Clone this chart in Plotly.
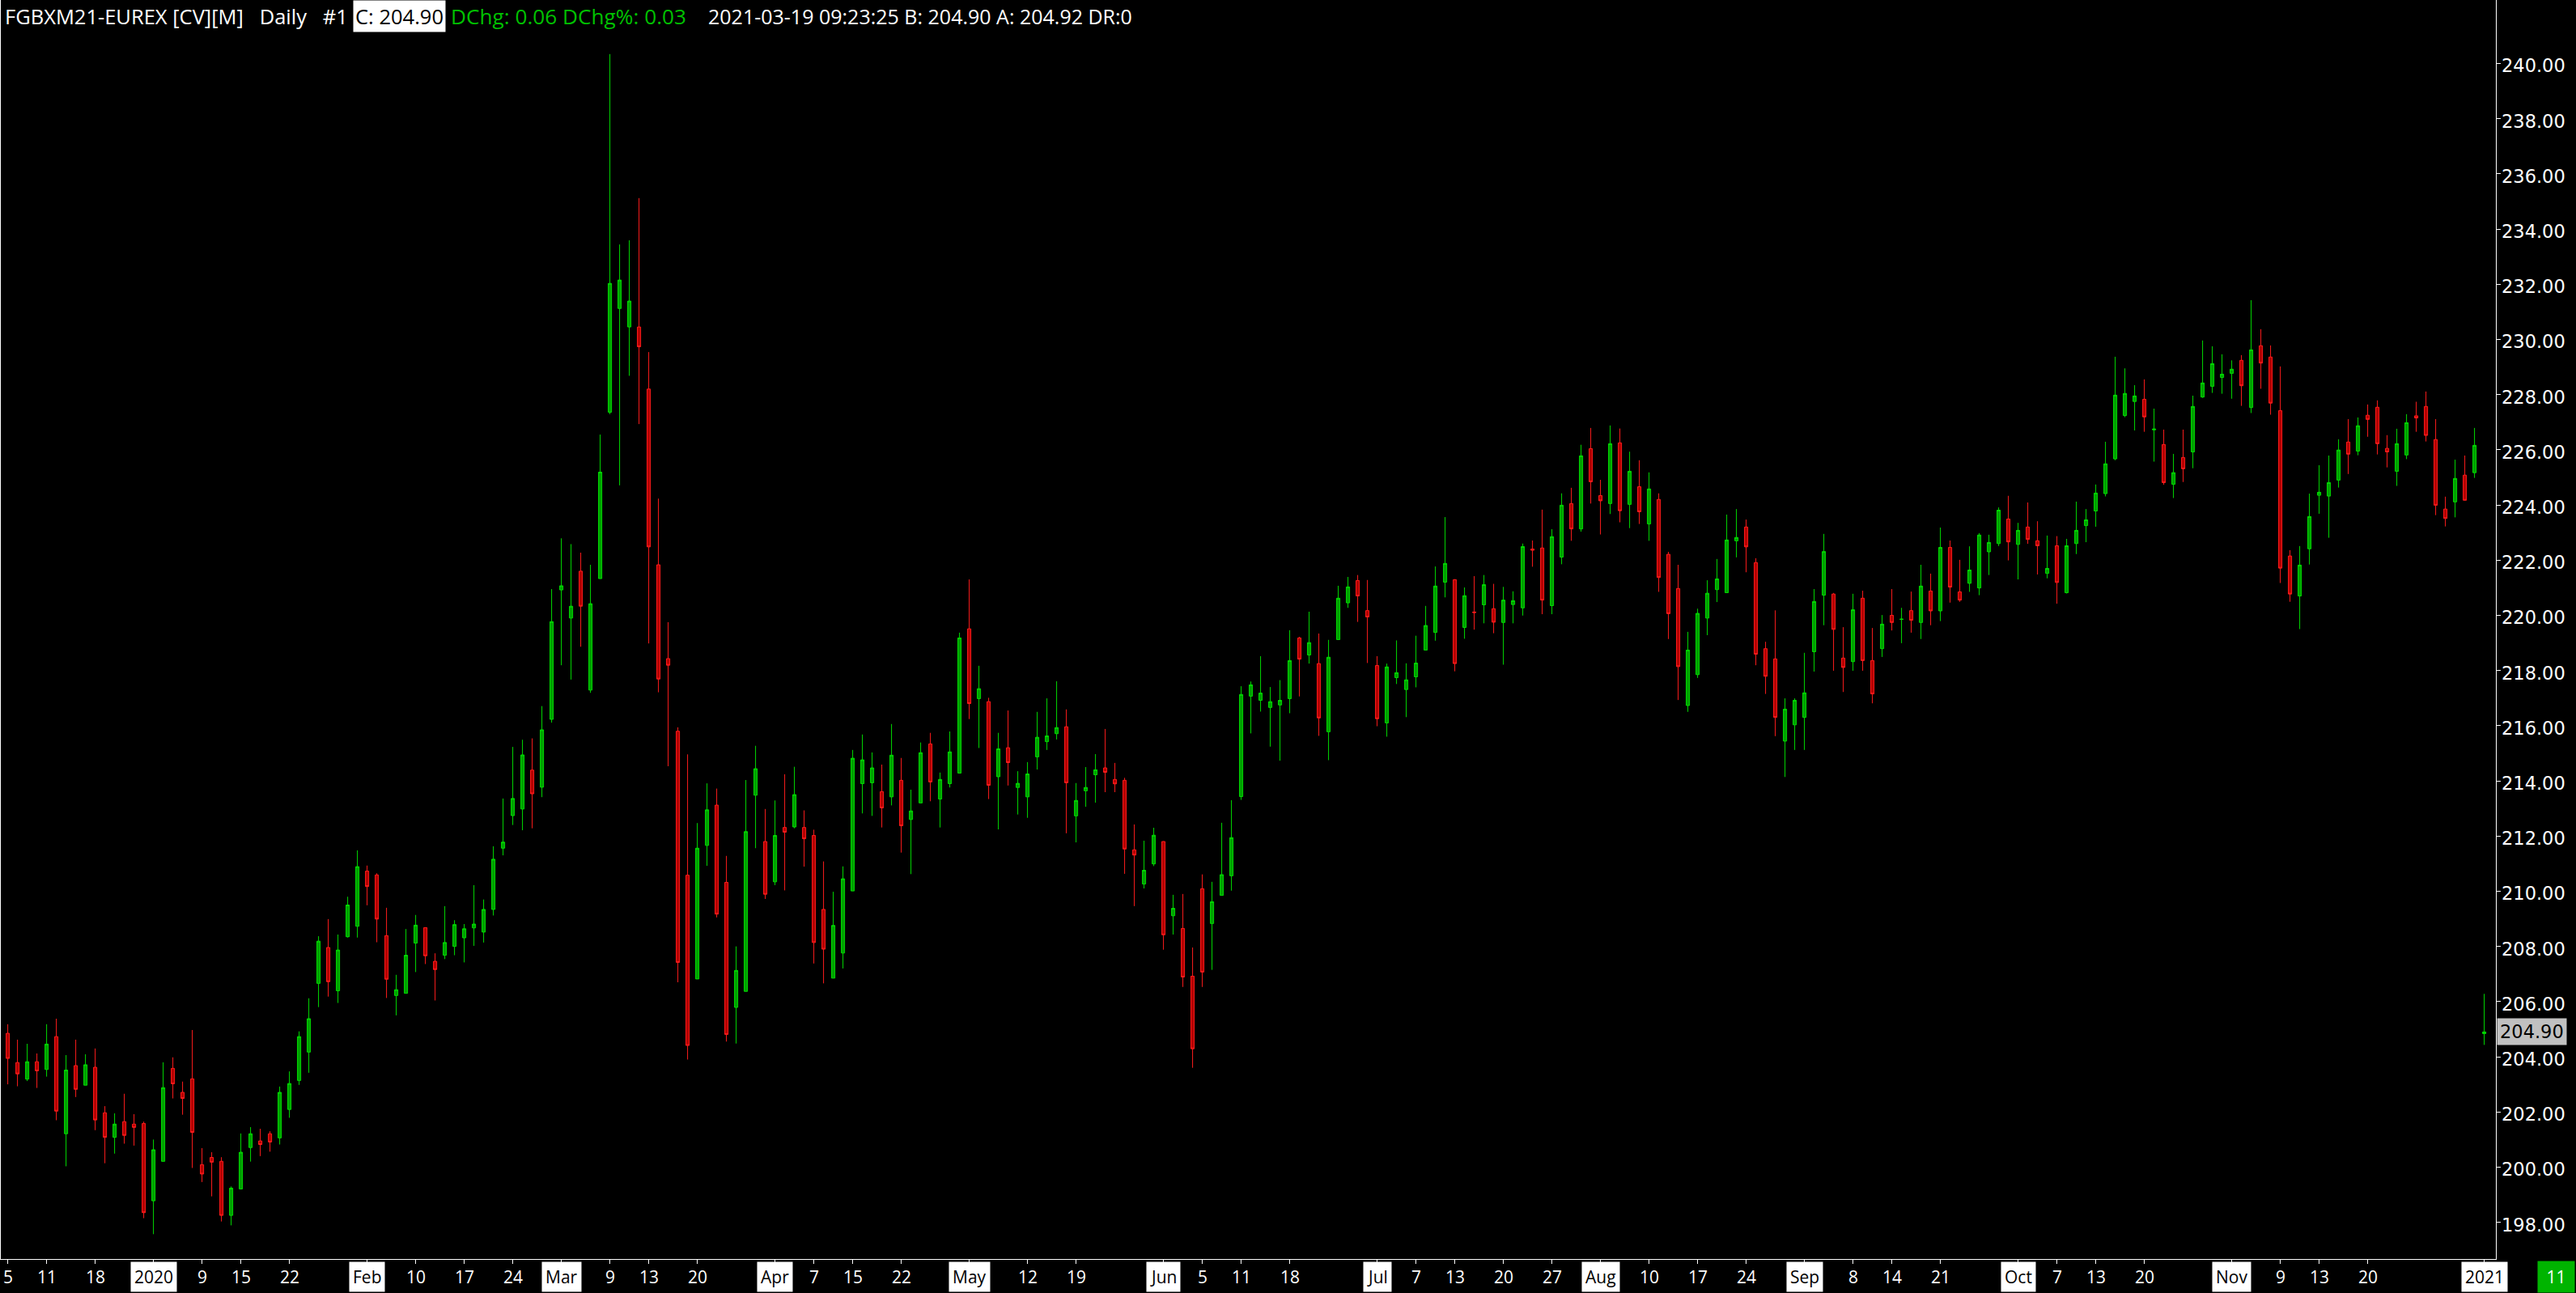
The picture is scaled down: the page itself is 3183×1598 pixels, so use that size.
import plotly.graph_objects as go

# ---- data (bar index order, Dec 2019 -> 2021) ----
open_ = [204.85,203.79,203.19,203.82,203.54,204.73,201.21,203.68,202.97,203.62,
         201.97,201.08,201.65,201.56,201.58,198.78,200.21,203.58,202.71,203.20,
         200.09,200.35,200.21,198.25,199.21,200.71,200.95,201.21,201.06,202.09,
         203.14,204.17,206.66,207.96,206.39,208.35,208.73,210.73,210.59,208.39,
         206.22,206.30,208.12,208.68,207.46,207.68,208.00,208.31,208.67,208.52,
         209.34,211.56,212.74,212.98,214.39,213.77,216.23,220.92,219.90,221.60,
         217.29,221.33,227.36,231.12,230.45,230.45,228.20,221.83,218.43,215.80,
         210.58,206.82,211.66,213.12,210.32,205.79,206.37,213.48,211.80,210.34,
         212.31,212.33,212.31,212.02,209.34,206.85,207.76,210.01,213.90,213.93,
         213.61,213.42,214.02,212.60,213.20,215.34,213.34,213.90,214.28,219.51,
         216.98,216.87,214.15,215.20,213.76,213.42,214.87,215.42,215.71,215.96,
         212.73,213.64,214.22,214.47,214.05,214.02,211.50,210.26,210.99,211.80,
         209.11,208.65,206.92,210.09,208.83,209.85,210.56,213.43,217.07,216.92,
         216.66,216.75,216.98,219.18,218.56,218.25,215.78,219.12,220.45,221.26,
         220.17,218.18,216.10,217.74,217.31,217.77,218.74,219.38,221.20,221.29,
         219.56,220.12,220.38,220.24,219.74,220.39,220.27,222.40,222.44,220.35,
         222.11,224.05,223.13,226.04,224.34,224.05,226.25,224.02,224.66,223.31,
         224.20,222.21,220.97,216.73,217.85,219.90,220.93,220.82,222.70,223.20,
         221.91,218.79,218.42,215.44,216.03,216.30,218.68,220.73,220.77,218.45,
         218.32,220.62,218.36,218.79,220.00,219.85,220.17,219.74,220.88,220.16,
         222.46,220.85,221.16,220.99,222.30,222.60,223.49,222.57,223.20,222.70,
         221.52,222.52,220.82,222.60,223.25,223.78,224.41,225.67,227.24,227.75,
         227.83,226.72,226.19,224.75,225.72,225.92,227.91,228.30,228.62,228.77,
         229.24,227.53,229.77,229.36,227.42,222.15,220.70,222.41,224.35,224.32,
         224.90,226.28,225.95,227.25,227.54,226.05,225.22,225.81,227.23,227.57,
         226.37,223.85,224.11,225.08,225.17,204.84]
high = [205.18,204.62,204.47,204.12,205.18,205.38,204.06,204.62,204.09,204.30,
        202.21,201.95,202.66,201.92,201.65,201.00,203.80,203.98,203.10,204.97,
        200.69,200.54,200.36,199.30,201.22,201.45,201.39,201.30,202.92,203.47,
        204.92,206.12,208.37,208.99,208.43,209.80,211.48,210.93,210.65,209.40,
        206.97,208.63,209.14,208.68,207.75,209.46,208.95,208.81,210.22,209.70,
        211.63,213.36,215.23,215.49,215.54,216.71,220.95,222.79,222.58,222.27,
        221.83,226.55,240.34,233.44,233.59,235.12,229.54,224.23,219.75,215.94,
        214.96,212.47,213.91,213.72,211.28,208.00,214.03,215.27,212.98,213.29,
        214.24,214.51,212.93,212.23,211.08,209.98,210.90,215.12,215.68,215.03,
        214.59,216.06,214.83,213.68,215.39,215.74,214.30,215.79,219.37,221.30,
        218.17,217.01,215.74,216.55,214.35,214.68,216.50,216.99,217.61,216.59,
        213.92,214.50,214.97,215.88,214.65,214.11,212.42,211.83,212.30,211.81,
        209.87,209.90,207.96,210.61,210.34,212.48,213.30,217.43,217.60,218.52,
        217.40,217.65,219.46,219.22,220.13,219.34,219.11,221.07,221.39,221.46,
        221.28,218.52,218.25,219.09,218.26,219.26,220.34,221.77,223.56,221.31,
        221.01,221.42,221.46,221.14,221.03,220.87,222.60,222.71,223.83,223.12,
        224.42,224.62,226.18,226.79,224.91,226.88,226.77,225.93,225.62,225.18,
        224.42,222.30,221.83,219.40,220.24,221.27,222.04,223.65,223.85,223.47,
        222.07,219.04,220.18,216.99,216.99,218.64,220.95,222.95,220.81,219.57,
        220.78,220.89,219.54,220.01,220.95,220.27,220.86,221.83,221.51,223.18,
        222.71,222.01,222.50,222.98,222.92,223.91,224.33,223.35,224.09,223.41,
        222.89,222.87,222.77,224.12,223.85,224.74,226.29,229.37,228.95,228.34,
        228.55,227.49,226.73,225.85,226.73,227.96,229.96,229.75,229.46,229.24,
        229.43,231.42,230.37,229.78,229.02,222.36,222.51,224.41,225.44,225.79,
        226.38,227.11,227.17,227.64,227.79,226.53,226.76,227.29,227.74,228.11,
        227.11,224.30,225.64,225.79,226.79,206.28]
low = [203.00,202.93,203.12,202.87,203.28,201.70,200.03,202.54,202.97,201.34,
       200.14,200.49,200.85,200.78,198.15,197.57,200.21,202.49,201.90,199.97,
       199.46,198.94,198.03,197.89,199.21,200.20,200.40,200.56,200.82,201.79,
       202.98,203.42,205.80,206.18,205.95,208.32,208.32,209.49,208.15,206.13,
       205.50,206.30,207.07,207.36,206.04,207.54,207.68,207.42,208.02,208.14,
       209.12,211.30,212.40,212.21,212.28,213.41,216.11,218.19,217.67,218.86,
       217.19,221.33,227.29,224.71,228.68,226.93,218.98,217.21,214.53,206.70,
       203.90,206.82,210.92,209.05,204.55,204.48,206.37,211.56,209.72,210.22,
       210.03,212.28,210.89,207.38,206.66,206.85,207.20,210.01,212.82,212.73,
       212.31,213.11,211.40,210.62,213.20,213.26,212.31,213.76,214.28,216.24,
       215.19,213.34,212.24,213.83,212.78,212.66,214.41,215.12,215.50,212.10,
       211.77,213.06,213.21,213.59,213.59,210.63,209.46,210.10,210.91,207.88,
       208.43,206.53,203.60,206.53,207.15,209.85,210.02,213.31,215.72,216.51,
       215.24,214.73,216.45,217.06,218.25,215.63,214.75,219.12,220.27,219.76,
       218.27,215.98,215.60,217.51,216.31,217.39,218.74,219.08,220.65,217.97,
       219.15,219.48,219.71,219.35,218.21,219.71,219.99,221.76,220.04,220.04,
       221.85,222.70,223.03,224.05,222.93,223.67,223.37,223.16,223.31,222.70,
       220.85,219.14,216.93,216.50,217.73,219.28,220.48,220.82,222.10,221.56,
       218.19,217.15,215.62,214.14,215.12,215.12,217.96,219.64,217.99,217.22,
       217.99,217.99,216.81,218.49,219.45,218.99,219.37,219.14,219.64,219.79,
       220.46,220.49,220.85,220.73,221.46,222.51,221.99,221.30,222.59,221.48,
       221.34,220.42,220.79,222.22,222.65,223.21,224.31,225.62,227.18,226.70,
       226.65,225.57,224.73,224.25,224.83,225.33,227.88,228.06,228.03,227.85,
       227.59,227.33,228.21,227.27,221.17,220.49,219.50,221.84,223.68,222.81,
       224.63,225.12,225.80,226.47,225.83,225.36,224.69,225.66,226.65,226.30,
       223.63,223.22,223.55,224.16,224.98,204.43]
close = [203.94,203.38,203.82,203.49,204.46,202.03,203.52,202.82,203.71,201.71,
         201.08,201.56,201.15,201.44,198.35,200.63,202.88,203.02,202.49,201.26,
         199.75,200.18,198.25,199.24,200.54,201.21,200.82,200.91,202.71,203.03,
         204.73,205.38,208.19,206.72,207.87,209.50,210.89,210.17,208.99,206.81,
         206.43,207.68,208.77,207.66,207.16,208.14,208.79,208.64,208.81,209.34,
         211.16,211.78,213.36,214.94,213.53,215.85,219.77,221.07,220.33,220.33,
         220.42,225.19,232.03,232.15,231.39,229.73,222.48,217.69,218.19,207.42,
         204.41,211.56,212.95,209.17,204.81,207.13,212.16,214.44,209.89,212.02,
         212.14,213.50,211.90,208.14,207.90,208.76,210.45,214.82,214.76,214.47,
         213.02,214.93,212.37,212.91,215.02,213.96,214.05,215.05,219.18,216.80,
         217.34,213.84,215.16,214.66,213.91,214.25,215.58,215.63,215.93,213.93,
         213.29,213.76,214.40,214.31,213.89,211.53,211.31,210.76,212.03,208.42,
         209.38,206.89,204.29,207.07,209.62,210.60,211.94,217.13,217.48,217.18,
         216.87,216.92,218.36,218.41,219.01,216.28,218.48,220.62,221.03,220.70,
         219.94,216.25,218.13,217.92,217.66,218.27,219.63,221.06,221.88,218.25,
         220.71,220.10,221.11,219.75,220.55,220.53,222.49,222.36,220.55,222.85,
         223.99,223.13,225.78,224.84,224.15,226.22,223.79,225.22,223.75,224.58,
         221.37,220.06,218.14,218.74,220.07,220.80,221.32,222.73,222.82,222.48,
         218.59,217.79,216.30,216.60,216.92,217.19,220.50,222.31,219.49,218.11,
         220.20,218.36,217.15,219.68,219.74,219.86,219.82,221.06,220.16,222.46,
         221.02,220.55,221.64,222.91,222.64,223.81,222.66,223.08,222.75,222.52,
         221.70,221.19,222.52,223.08,223.46,224.43,225.49,227.98,228.04,227.95,
         227.19,226.75,224.81,225.17,225.31,227.57,228.42,229.12,228.74,228.92,
         228.32,229.62,229.14,227.69,221.71,220.77,221.82,223.58,224.46,224.81,
         225.99,225.84,226.87,227.10,226.22,225.92,226.22,226.98,227.15,226.52,
         223.99,223.51,224.96,224.17,226.16,204.90]

tick_pos = [0, 4, 9, 15, 20, 24, 29, 37, 42, 47, 52, 57, 62, 66, 71, 79, 83, 87, 92,
            99, 105, 110, 119, 123, 127, 132, 141, 145, 149, 154, 159, 164, 169, 174,
            179, 185, 190, 194, 199, 207, 211, 215, 220, 229, 234, 238, 243, 255]
tick_text = ["5", "11", "18", "2020", "9", "15", "22", "Feb", "10", "17", "24", "Mar",
             "9", "13", "20", "Apr", "7", "15", "22", "May", "12", "19", "Jun", "5",
             "11", "18", "Jul", "7", "13", "20", "27", "Aug", "10", "17", "24", "Sep",
             "8", "14", "21", "Oct", "7", "13", "20", "Nov", "9", "13", "20", "2021"]
boxed_labels = {"2020", "2021", "Feb", "Mar", "Apr", "May", "Jun", "Jul", "Aug",
                "Sep", "Oct", "Nov"}
price_ticks = [198, 200, 202, 204, 206, 208, 210, 212, 214, 216, 218, 220, 222,
               224, 226, 228, 230, 232, 234, 236, 238, 240]
last_price = 204.90

# ---- figure ----
W, H = 3183, 1598
ML, MR, MT, MB = 0, 99, 0, 42
PW, PH = W - ML - MR, H - MT - MB

fig = go.Figure(go.Candlestick(
    x=list(range(len(close))), open=open_, high=high, low=low, close=close,
    increasing=dict(line=dict(color="#00dc00", width=1), fillcolor="#00a000"),
    decreasing=dict(line=dict(color="#ff1c1c", width=1), fillcolor="#b40000"),
    whiskerwidth=0, hoverinfo="skip", showlegend=False))

ann = []
ylab = -(1578 - PH) / PH
for p, t in zip(tick_pos, tick_text):
    boxed = t in boxed_labels
    ann.append(dict(x=p, xref="x", y=ylab, yref="paper", text=t, showarrow=False,
                    xanchor="center", yanchor="middle",
                    font=dict(family="Open Sans", size=21,
                              color="#000000" if boxed else "#ffffff"),
                    bgcolor="#ffffff" if boxed else "rgba(0,0,0,0)", borderpad=4))

# price-axis labels (slightly below their tick marks, as in the reference)
for v in price_ticks:
    ann.append(dict(x=1.0, xref="paper", xshift=5, y=v, yref="y", yshift=-3,
                    xanchor="left", yanchor="middle", text=f"{v:.2f}",
                    showarrow=False,
                    font=dict(family="DejaVu Sans", size=22.5, color="#ffffff")))

hy = 1 - 20 / PH
hfont = "Open Sans"
ann += [
    dict(x=4 / PW, xref="paper", y=hy, yref="paper", xanchor="left", yanchor="middle",
         text="FGBXM21-EUREX [CV][M]&nbsp;&nbsp;&nbsp;Daily&nbsp;&nbsp;&nbsp;#1",
         showarrow=False, font=dict(family=hfont, size=25.5, color="#ffffff")),
    dict(x=436 / PW, xref="paper", y=hy, yref="paper", xanchor="left", yanchor="middle",
         text="C: 204.90", showarrow=False, bgcolor="#ffffff", borderpad=2,
         font=dict(family=hfont, size=25.5, color="#000000")),
    dict(x=555 / PW, xref="paper", y=hy, yref="paper", xanchor="left", yanchor="middle",
         text="DChg: 0.06 DChg%: 0.03", showarrow=False,
         font=dict(family=hfont, size=26.2, color="#00c000")),
    dict(x=873 / PW, xref="paper", y=hy, yref="paper", xanchor="left", yanchor="middle",
         text="2021-03-19 09:23:25 B: 204.90 A: 204.92 DR:0", showarrow=False,
         font=dict(family=hfont, size=25, color="#ffffff")),
    dict(x=1.0, xref="paper", xshift=1, y=last_price, yref="y", xanchor="left",
         yanchor="middle", text=f"{last_price:.2f}", showarrow=False,
         bgcolor="#c0c0c0", borderpad=3,
         font=dict(family="DejaVu Sans", size=22.5, color="#000000")),
    dict(x=(W - 1) / PW, xref="paper", y=ylab, yref="paper", xanchor="right",
         yanchor="middle", text="&nbsp;11&nbsp;", showarrow=False, bgcolor="#00b400",
         borderpad=5, font=dict(family="Open Sans", size=21, color="#ffffff")),
]

fig.update_layout(
    width=W, height=H, margin=dict(l=ML, r=MR, t=MT, b=MB),
    paper_bgcolor="#000000", plot_bgcolor="#000000",
    boxgap=0.3, boxgroupgap=0.52, showlegend=False,
    xaxis=dict(range=[-0.8, 256.2], showgrid=False, zeroline=False,
               showline=True, linecolor="#ffffff", linewidth=1,
               ticks="outside", ticklen=5, tickcolor="#ffffff",
               tickvals=tick_pos, showticklabels=False,
               rangeslider=dict(visible=False), fixedrange=True),
    yaxis=dict(side="right", range=[196.67, 242.30], showgrid=False, zeroline=False,
               showline=True, linecolor="#ffffff", linewidth=1,
               ticks="outside", ticklen=5, tickcolor="#ffffff",
               tickvals=price_ticks, showticklabels=False,
               fixedrange=True),
    annotations=ann,
    shapes=[dict(type="line", xref="paper", yref="paper", x0=0.5 / PW, x1=0.5 / PW,
                 y0=0, y1=1, line=dict(color="#ffffff", width=1))],
)

fig.write_html("out.html",
               config={"displayModeBar": False, "staticPlot": True},
               post_script="document.body.style.margin='0';"
                           "document.body.style.overflow='hidden';"
                           "document.body.style.background='#000';")
